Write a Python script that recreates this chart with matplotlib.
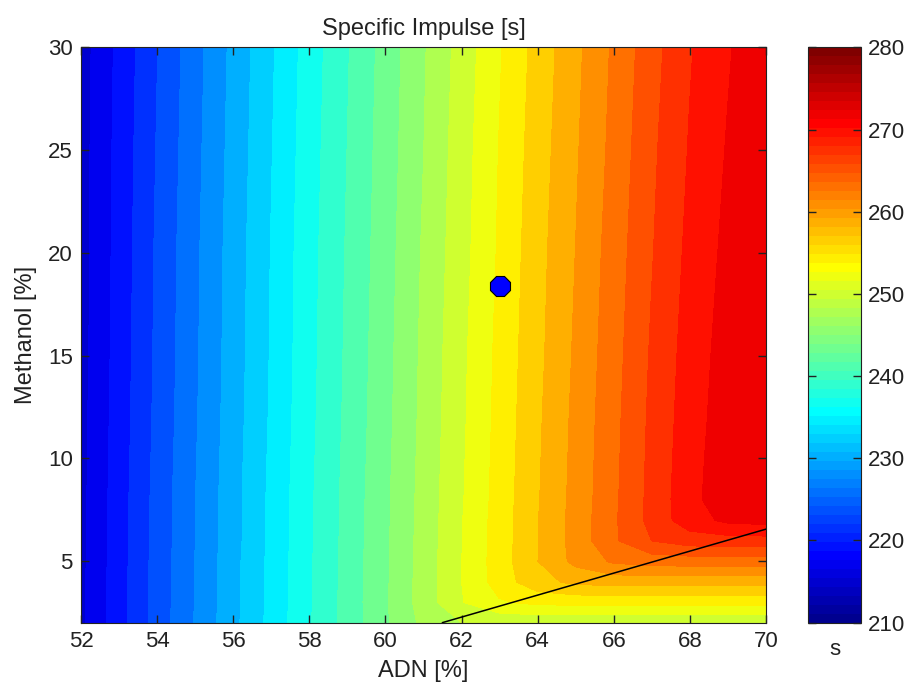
import numpy as np
import matplotlib
matplotlib.use("Agg")
import matplotlib.pyplot as plt
from matplotlib.colors import ListedColormap, Normalize
from matplotlib.cm import ScalarMappable

plt.rcParams['font.family'] = ['Liberation Sans', 'DejaVu Sans']

# grid
adn = [52, 54, 56, 58, 60, 61, 62, 63, 64, 65, 66, 67, 68, 69, 70]
meoh = [2, 3, 4, 5, 6, 7, 8, 10, 12, 15, 20, 25, 30]
isp = [
    [216.0, 224.0, 231.2, 238.2, 244.6, 247.7, 249.3, 249.65, 249.7, 249.7, 249.7, 249.7, 249.7, 249.7, 249.7],
    [216.0, 223.9, 231.1, 238.1, 244.7, 248.1, 251.4, 253.5, 254.2, 254.3, 254.3, 254.3, 254.3, 254.3, 254.3],
    [216.0, 223.9, 231.1, 238.1, 244.6, 248.1, 251.5, 254.7, 257.4, 258.6, 258.9, 258.9, 258.9, 258.9, 258.9],
    [215.95, 223.9, 231.1, 238.1, 244.6, 248.0, 251.5, 254.8, 258.05, 260.9, 262.8, 263.4, 263.5, 263.5, 263.5],
    [215.9, 223.8, 231.0, 238.0, 244.6, 248.0, 251.4, 254.7, 258.0, 261.1, 264.3, 266.85, 267.9, 268.05, 268.1],
    [215.9, 223.8, 231.0, 238.0, 244.5, 247.9, 251.4, 254.7, 258.0, 261.1, 264.3, 267.55, 270.3, 271.7, 272.0],
    [215.9, 223.8, 231.0, 238.0, 244.5, 247.9, 251.3, 254.6, 257.9, 261.0, 264.2, 267.5, 270.5, 272.7, 273.2],
    [215.8, 223.7, 230.9, 237.9, 244.4, 247.8, 251.2, 254.5, 257.8, 260.9, 264.1, 267.4, 270.35, 272.6, 273.3],
    [215.8, 223.6, 230.8, 237.8, 244.3, 247.7, 251.1, 254.4, 257.7, 260.8, 264.0, 267.3, 270.2, 272.4, 273.3],
    [215.7, 223.5, 230.7, 237.7, 244.2, 247.6, 251.0, 254.3, 257.5, 260.6, 263.8, 267.1, 270.0, 272.2, 273.3],
    [215.6, 223.4, 230.6, 237.6, 244.0, 247.4, 250.7, 254.0, 257.3, 260.3, 263.5, 266.7, 269.6, 271.8, 273.25],
    [215.6, 223.2, 230.4, 237.4, 243.8, 247.1, 250.5, 253.8, 257.0, 260.0, 263.1, 266.4, 269.2, 271.4, 273.2],
    [215.5, 223.0, 230.2, 237.2, 243.6, 246.9, 250.2, 253.5, 256.7, 259.7, 262.8, 266.0, 268.85, 271.0, 273.0],
]
# black boundary line
line_adn = [61.5, 70.0]
line_meoh = [2.0, 6.55]
# design point
pt_adn = [63.0]
pt_meoh = [18.4]

# matlab style jet(64)
n = 64
m = 16
u = np.concatenate([np.arange(1, m + 1) / m, np.ones(m - 1), np.arange(m, 0, -1) / m])
g = (m // 2) + np.arange(1, len(u) + 1) - 1
r = g + m
b = g - m
jet = np.zeros((n, 3))
for ch, idx in ((0, r), (1, g), (2, b)):
    ok = (idx >= 0) & (idx < n)
    jet[idx[ok], ch] = u[ok]
cmap = ListedColormap(jet)
norm = Normalize(210, 280)

fig = plt.figure(figsize=(9.09, 6.91), dpi=100)
ax = fig.add_axes([0.0891, 0.0990, 0.7536, 0.8323])
cax = fig.add_axes([0.8889, 0.0990, 0.0583, 0.8323])

levels = np.linspace(210, 280, 33)
# matlab colours each filled band by its lower level
band_colors = [cmap(norm(lv)) for lv in levels[:-1]]
cs = ax.contourf(adn, meoh, np.array(isp), levels=levels, colors=band_colors)
cs.set_edgecolor('face')
ax.plot(line_adn, line_meoh, color='black', linewidth=1.1)
ax.plot(pt_adn, pt_meoh, marker='8', markersize=15, color='#0000ff',
        markeredgecolor='black', markeredgewidth=0.8, linestyle='none')

ax.set_xlim(52, 70)
ax.set_ylim(2, 30)
ax.set_xticks(np.arange(52, 71, 2))
ax.set_yticks([5, 10, 15, 20, 25, 30])
ax.tick_params(direction='in', top=True, right=True, length=6, width=1,
               labelsize=16, pad=6, colors='#222222')
ax.set_xlabel('ADN [%]', fontsize=17, color='#222222', labelpad=6)
ax.set_ylabel('Methanol [%]', fontsize=17, color='#222222', labelpad=8)
ax.set_title('Specific Impulse [s]', fontsize=17, color='#222222', pad=9)
for sp in ax.spines.values():
    sp.set_color('#222222')

cb = fig.colorbar(ScalarMappable(norm=norm, cmap=cmap), cax=cax)
cb.set_ticks(np.arange(210, 281, 10))
cax.tick_params(direction='in', left=True, right=True, length=6, width=1,
                labelsize=16, pad=5, colors='#222222')
cax.set_xlabel('s', fontsize=16, color='#222222', labelpad=12)
cb.outline.set_edgecolor('#222222')

fig.savefig('out.png', dpi=100)
